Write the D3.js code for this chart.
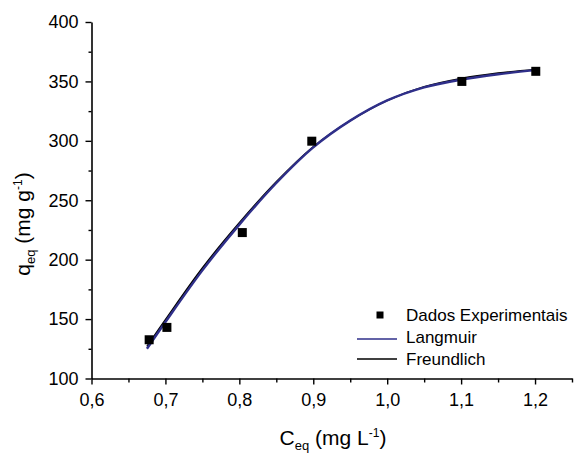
<!DOCTYPE html>
<html>
<head>
<meta charset="utf-8">
<script src="https://cdn.jsdelivr.net/npm/d3@7"></script>
<style>
  body { margin: 0; background: #fff; }
  text { font-family: "Liberation Sans", Arial, sans-serif; fill: #000; }
</style>
</head>
<body>
<script>
// experimental points
var expC = [0.678, 0.702, 0.804, 0.898, 1.101, 1.201];
var expQ = [132.6, 143, 222.8, 299.7, 350, 358.5];

// fitted curves
var fitC = [0.675, 0.70, 0.75, 0.80, 0.85, 0.90, 0.95, 1.00, 1.05, 1.10, 1.15, 1.20];
var langmuirQ = [125, 147.5, 191, 229.5, 264.5, 294.5, 317, 334, 345, 351.5, 356, 359.5];
var freundlichQ = [127, 149.5, 193, 231, 265.5, 295, 317, 334, 345.5, 352.5, 357, 360];

var xMajor = [0.6, 0.7, 0.8, 0.9, 1.0, 1.1, 1.2];
var xMinor = [0.65, 0.75, 0.85, 0.95, 1.05, 1.15, 1.25];
var yMajor = [100, 150, 200, 250, 300, 350, 400];
var yMinor = [125, 175, 225, 275, 325, 375];

var legendLabels = ["Dados Experimentais", "Langmuir", "Freundlich"];

var blue = "#2f2f8a";

var svg = d3.select("body").append("svg")
    .attr("width", 576)
    .attr("height", 454);

var x = d3.scaleLinear().domain([0.6, 1.25]).range([91.5, 572]);
var y = d3.scaleLinear().domain([100, 400]).range([378.5, 22]);

var comma = function(d) { return d3.format(".1f")(d).replace(".", ","); };

// x axis - major ticks with labels
svg.append("g")
    .attr("transform", "translate(0," + y(100) + ")")
    .call(d3.axisBottom(x).tickValues(xMajor).tickFormat(comma).tickSize(6).tickSizeOuter(0).tickPadding(9));
// minor ticks
svg.append("g")
    .attr("transform", "translate(0," + y(100) + ")")
    .call(d3.axisBottom(x).tickValues(xMinor).tickFormat("").tickSize(4).tickSizeOuter(0))
    .select(".domain").remove();

// y axis
svg.append("g")
    .attr("transform", "translate(" + x(0.6) + ",0)")
    .call(d3.axisLeft(y).tickValues(yMajor).tickSize(6).tickSizeOuter(0).tickPadding(7));
svg.append("g")
    .attr("transform", "translate(" + x(0.6) + ",0)")
    .call(d3.axisLeft(y).tickValues(yMinor).tickFormat("").tickSize(3).tickSizeOuter(0))
    .select(".domain").remove();

svg.selectAll(".domain").attr("stroke-width", 1.6);
svg.selectAll(".tick line").attr("stroke-width", 1.4);
svg.selectAll(".tick text")
    .style("font-size", "18px")
    .style("font-family", "'Liberation Sans', Arial, sans-serif");

// axis titles
var xt = svg.append("text")
    .attr("x", 333)
    .attr("y", 445)
    .attr("text-anchor", "middle")
    .style("font-size", "21px");
xt.append("tspan").text("C");
xt.append("tspan").attr("dy", 5).style("font-size", "13px").text("eq");
xt.append("tspan").attr("dy", -5).text(" (mg L");
xt.append("tspan").attr("dy", -8).style("font-size", "12px").text("-1");
xt.append("tspan").attr("dy", 8).text(")");

var yt = svg.append("text")
    .attr("transform", "translate(30,224) rotate(-90)")
    .attr("text-anchor", "middle")
    .style("font-size", "21px");
yt.append("tspan").text("q");
yt.append("tspan").attr("dy", 5).style("font-size", "13px").text("eq");
yt.append("tspan").attr("dy", -5).text(" (mg g");
yt.append("tspan").attr("dy", -8).style("font-size", "12px").text("-1");
yt.append("tspan").attr("dy", 8).text(")");

// curves
var line = function(vals) {
  return d3.line()
    .x(function(d, i) { return x(fitC[i]); })
    .y(function(d) { return y(d); })
    .curve(d3.curveCatmullRom)(vals);
};

svg.append("path")
    .attr("d", line(freundlichQ))
    .attr("fill", "none")
    .attr("stroke", "#000")
    .attr("stroke-width", 1.6);

svg.append("path")
    .attr("d", line(langmuirQ))
    .attr("fill", "none")
    .attr("stroke", blue)
    .attr("stroke-width", 2.4);

// experimental squares
svg.selectAll(".pt")
    .data(expC)
    .enter().append("rect")
    .attr("class", "pt")
    .attr("x", function(d) { return x(d) - 4.5; })
    .attr("y", function(d, i) { return y(expQ[i]) - 4.5; })
    .attr("width", 9)
    .attr("height", 9)
    .attr("fill", "#000");

// legend
var leg = svg.append("g");
leg.append("rect")
    .attr("x", 376.5).attr("y", 311.5)
    .attr("width", 7).attr("height", 7)
    .attr("fill", "#000");
leg.append("line")
    .attr("x1", 357).attr("x2", 397).attr("y1", 339).attr("y2", 339)
    .attr("stroke", blue).attr("stroke-width", 1.6);
leg.append("line")
    .attr("x1", 357).attr("x2", 397).attr("y1", 359).attr("y2", 359)
    .attr("stroke", "#000").attr("stroke-width", 1.4);

leg.selectAll(".lt")
    .data(legendLabels)
    .enter().append("text")
    .attr("class", "lt")
    .attr("x", 406)
    .attr("y", function(d, i) { return 321 + i * 22; })
    .style("font-size", "17px")
    .text(function(d) { return d; });
</script>
</body>
</html>
